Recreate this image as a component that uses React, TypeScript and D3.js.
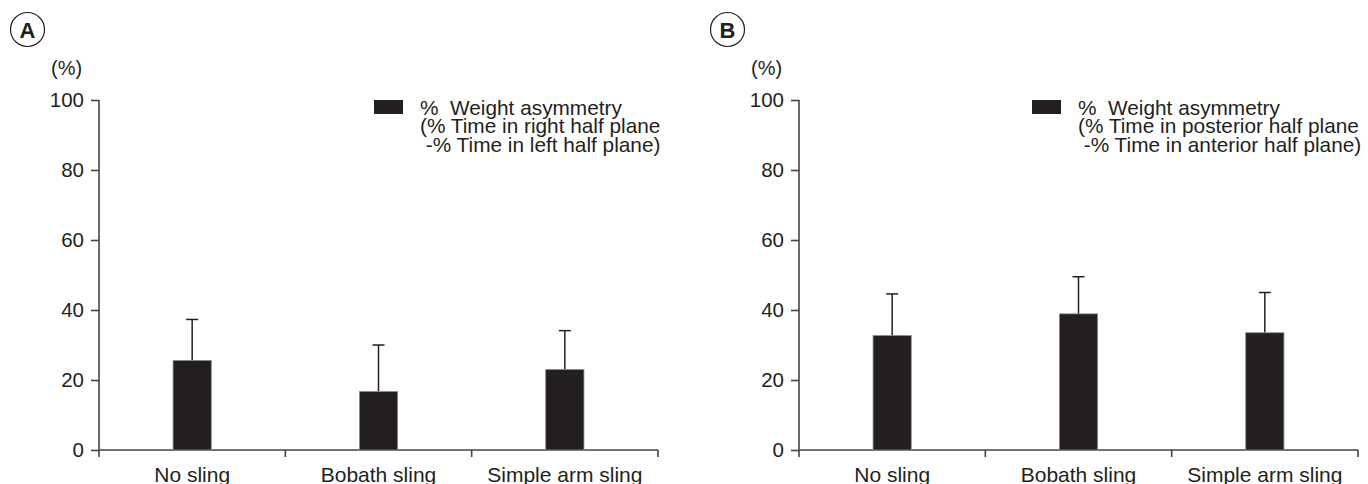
import React, { useEffect, useRef } from 'react';
import * as d3 from 'd3';

const categories = ['No sling', 'Bobath sling', 'Simple arm sling'];
const yTicks = [0, 20, 40, 60, 80, 100];

// panel A: right - left
const meanA = [25.6, 16.7, 23.0];
const errA = [11.7, 13.3, 11.1];
// panel B: posterior - anterior
const meanB = [32.7, 38.9, 33.5];
const errB = [11.9, 10.6, 11.5];

const legendA = ['%  Weight asymmetry', '(% Time in right half plane', ' -% Time in left half plane)'];
const legendB = ['%  Weight asymmetry', '(% Time in posterior half plane', ' -% Time in anterior half plane)'];

const INK = '#231f20';
const AXIS = '#444';
const FONT = '"Liberation Sans", Arial, sans-serif';

const Panel = ({ ox, letter, means, errs, legend, legX }) => {
  const ref = useRef(null);

  useEffect(() => {
    const g = d3.select(ref.current);
    g.selectAll('*').remove();

    const left = ox + 99;
    const right = ox + 658;
    const top = 100;
    const bottom = 450;

    const x = d3.scaleBand().domain(categories).range([left, right]).padding(0);
    const y = d3.scaleLinear().domain([0, 100]).range([bottom, top]);
    const barW = x.bandwidth() * 0.205;

    // panel letter
    g.append('circle')
      .attr('cx', ox + 27.5).attr('cy', 29.5).attr('r', 17)
      .attr('fill', 'none').attr('stroke', INK).attr('stroke-width', 1.2);
    g.append('text')
      .attr('x', ox + 27.5).attr('y', 37.5)
      .attr('text-anchor', 'middle')
      .attr('font-size', 22).attr('font-weight', 'bold')
      .attr('fill', INK)
      .text(letter);

    g.append('text')
      .attr('x', ox + 51).attr('y', 75)
      .attr('font-size', 20).attr('fill', INK)
      .text('(%)');

    // y axis
    const yAxis = g.append('g')
      .attr('transform', `translate(${left},0)`)
      .call(d3.axisLeft(y).tickValues(yTicks).tickSize(8).tickPadding(7).tickSizeOuter(0));
    yAxis.select('.domain').remove();
    yAxis.append('line')
      .attr('x1', 0).attr('x2', 0).attr('y1', top).attr('y2', bottom + 7)
      .attr('stroke', AXIS).attr('stroke-width', 1.6);
    yAxis.selectAll('.tick line').attr('stroke', AXIS).attr('stroke-width', 1.6);
    yAxis.selectAll('.tick text')
      .attr('font-size', 20.5).attr('font-family', FONT).attr('fill', INK);

    // x axis
    g.append('line')
      .attr('x1', left).attr('x2', right).attr('y1', bottom).attr('y2', bottom)
      .attr('stroke', AXIS).attr('stroke-width', 1.6);
    categories.forEach((c) => {
      const xe = x(c) + x.bandwidth();
      g.append('line')
        .attr('x1', xe).attr('x2', xe).attr('y1', bottom).attr('y2', bottom + 7)
        .attr('stroke', AXIS).attr('stroke-width', 1.6);
      g.append('text')
        .attr('x', x(c) + x.bandwidth() / 2).attr('y', bottom + 32)
        .attr('text-anchor', 'middle')
        .attr('font-size', 21).attr('fill', INK)
        .text(c);
    });

    // error bars (upper only)
    categories.forEach((c, i) => {
      const cx = x(c) + x.bandwidth() / 2;
      const yt = y(means[i] + errs[i]);
      g.append('line')
        .attr('x1', cx).attr('x2', cx).attr('y1', y(means[i])).attr('y2', yt)
        .attr('stroke', INK).attr('stroke-width', 1.5);
      g.append('line')
        .attr('x1', cx - 6).attr('x2', cx + 6).attr('y1', yt).attr('y2', yt)
        .attr('stroke', INK).attr('stroke-width', 1.5);
    });

    // bars
    g.selectAll('rect.bar')
      .data(means)
      .join('rect')
      .attr('class', 'bar')
      .attr('x', (d, i) => x(categories[i]) + x.bandwidth() / 2 - barW / 2)
      .attr('y', (d) => y(d))
      .attr('width', barW)
      .attr('height', (d) => bottom - y(d))
      .attr('fill', INK)
      .attr('stroke', '#8a8a8a')
      .attr('stroke-width', 0.8);

    // legend
    g.append('rect')
      .attr('x', legX).attr('y', 100).attr('width', 29).attr('height', 14)
      .attr('fill', INK);
    legend.forEach((line, i) => {
      g.append('text')
        .attr('x', legX + 46).attr('y', 115 + i * 18.4)
        .attr('font-size', 20.8).attr('fill', INK)
        .style('white-space', 'pre')
        .text(line);
    });
  }, [ox, letter, means, errs, legend, legX]);

  return <g ref={ref} />;
};

const App = () => {
  return (
    <svg
      width={1368}
      height={484}
      style={{ position: 'absolute', left: 0, top: 0, background: '#fff', fontFamily: FONT }}
    >
      <Panel ox={0} letter="A" means={meanA} errs={errA} legend={legendA} legX={374} />
      <Panel ox={700} letter="B" means={meanB} errs={errB} legend={legendB} legX={1032} />
    </svg>
  );
};

export default App;
